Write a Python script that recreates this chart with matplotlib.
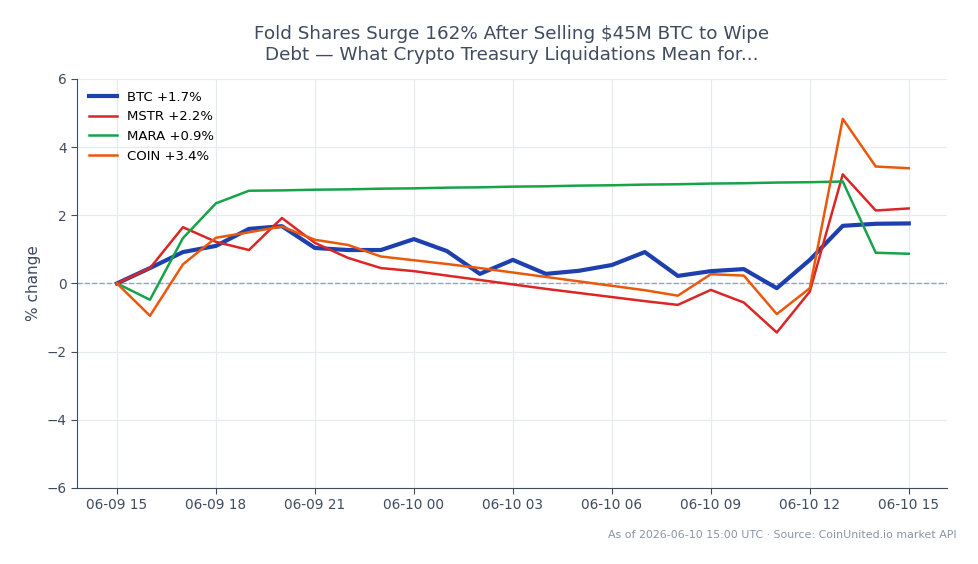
import matplotlib
matplotlib.use("Agg")
import matplotlib.pyplot as plt
import matplotlib.dates as mdates
import pandas as pd

# hourly % change since 06-09 15:00
times = pd.date_range("2026-06-09 15:00", "2026-06-10 15:00", freq="h")
btc = [0, 0.45, 0.92, 1.1, 1.6, 1.68, 1.04, 0.98, 0.98, 1.3, 0.95, 0.28, 0.69,
       0.28, 0.37, 0.54, 0.92, 0.22, 0.36, 0.42, -0.14, 0.69, 1.69, 1.75, 1.76]
mstr = [0, 0.45, 1.65, 1.22, 0.98, 1.92, 1.19, 0.75, 0.45, 0.36, 0.23, 0.1, -0.03,
        -0.16, -0.28, -0.4, -0.52, -0.63, -0.19, -0.56, -1.44, -0.24, 3.2, 2.14, 2.2]
mara = [0, -0.48, 1.33, 2.35, 2.72, 2.73, 2.75, 2.76, 2.78, 2.79, 2.81, 2.82, 2.84,
        2.85, 2.87, 2.88, 2.9, 2.91, 2.93, 2.94, 2.96, 2.97, 2.99, 0.9, 0.87]
coin = [0, -0.95, 0.56, 1.34, 1.5, 1.67, 1.28, 1.13, 0.79, 0.68, 0.57, 0.45, 0.32,
        0.19, 0.06, -0.07, -0.2, -0.36, 0.27, 0.23, -0.9, -0.14, 4.83, 3.43, 3.38]

series = [("BTC +1.7%", btc, "#1e40af", 3.0),
          ("MSTR +2.2%", mstr, "#dc2626", 1.8),
          ("MARA +0.9%", mara, "#16a34a", 1.8),
          ("COIN +3.4%", coin, "#ea580c", 1.8)]

dark = "#3f4b5e"
fig, ax = plt.subplots(figsize=(9.79, 5.64), dpi=100)
fig.subplots_adjust(left=0.0787, right=0.967, top=0.86, bottom=0.135)

for label, vals, col, lw in series:
    ax.plot(times, vals, color=col, lw=lw, label=label)
ax.axhline(0, color="#94a3b8", lw=1, ls="--", zorder=1.5)

ax.set_ylim(-6, 6)
ax.set_yticks([-6, -4, -2, 0, 2, 4, 6])
ax.set_xlim(times[0] - pd.Timedelta(hours=1.21), times[0] + pd.Timedelta(hours=25.15))
ax.xaxis.set_major_locator(mdates.HourLocator(byhour=range(0, 24, 3)))
ax.xaxis.set_major_formatter(mdates.DateFormatter("%m-%d %H"))

ax.grid(True, color="#e5e9f0", lw=0.8)
ax.set_axisbelow(True)
for s in ["top", "right"]:
    ax.spines[s].set_visible(False)
for s in ["left", "bottom"]:
    ax.spines[s].set_color(dark)
ax.tick_params(colors=dark, labelsize=9.8, length=4)

ax.set_ylabel("% change", color=dark, fontsize=11)
ax.set_title("Fold Shares Surge 162% After Selling $45M BTC to Wipe\nDebt — What Crypto Treasury Liquidations Mean for...",
             color=dark, fontsize=13.2, pad=14)
ax.legend(loc="upper left", frameon=False, fontsize=9.5, handlelength=2.1)

fig.text(0.977, 0.052, "As of 2026-06-10 15:00 UTC · Source: CoinUnited.io market API",
         ha="right", va="center", fontsize=7.9, color="#8a94a6")

fig.savefig("out.png", dpi=100)
